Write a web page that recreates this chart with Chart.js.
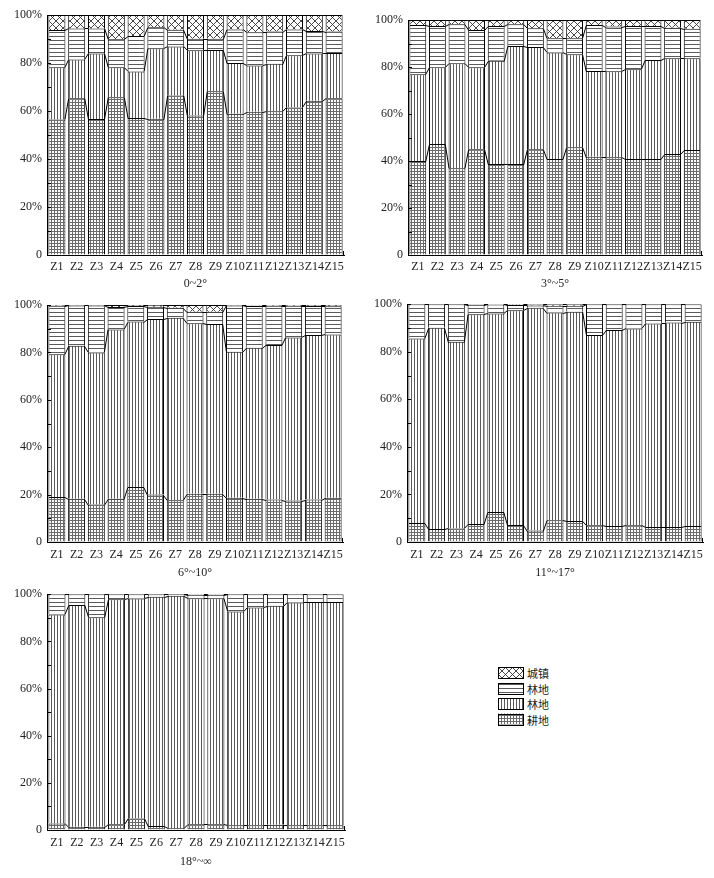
<!DOCTYPE html>
<html><head><meta charset="utf-8">
<script src="https://cdn.jsdelivr.net/npm/chart.js@4"></script>
<style>
body{margin:0;background:#fff;width:714px;height:878px;position:relative;overflow:hidden}
.p{position:absolute}
.lg{position:absolute;font-family:"Noto Sans CJK SC",sans-serif;font-size:11px;color:#222;line-height:14px}
</style></head><body>
<canvas class="p" id="c1" width="357" height="292" style="left:0;top:0"></canvas>
<canvas class="p" id="c2" width="357" height="292" style="left:357px;top:0"></canvas>
<canvas class="p" id="c3" width="357" height="290" style="left:0;top:292px"></canvas>
<canvas class="p" id="c4" width="357" height="290" style="left:357px;top:292px"></canvas>
<canvas class="p" id="c5" width="357" height="296" style="left:0;top:582px"></canvas>
<canvas class="p" id="lgc" width="30" height="70" style="left:495px;top:664px"></canvas>
<div class="lg" id="lgt" style="left:527px;top:666px"></div>
<script>
// ---------- DATA ----------
const zones = ['Z1','Z2','Z3','Z4','Z5','Z6','Z7','Z8','Z9','Z10','Z11','Z12','Z13','Z14','Z15'];
const seriesNames = ['耕地','林地','林地','城镇']; // bottom -> top
const legendNames = ['城镇','林地','林地','耕地'];   // legend order (top -> bottom)
const panelTitles = ['0~2°','3°~5°','6°~10°','11°~17°','18°~∞'];
const yTicks = [0,20,40,60,80,100];

// Panel 0~2°
const crop_0_2   = [56.5,65.3,56.7,65.7,57.1,56.8,66.5,58.1,68.2,58.9,59.7,59.9,61.5,64.3,65.3];
const forestV_0_2= [21.7,16.2,27.3,12.5,19.4,29.3,20.4,27.2,17.2,21.1,19.3,19.8,21.7,19.7,18.9];
const forestH_0_2= [15.6,12.9,10.4,11.7,14.8, 8.8, 7.0, 4.8, 4.7,14.0,13.8,13.4,10.8, 9.3, 8.9];
const town_0_2   = [ 6.2, 5.6, 5.6,10.1, 8.7, 5.1, 6.1, 9.9, 9.9, 6.0, 7.2, 6.9, 6.0, 6.7, 6.9];
// Panel 3°~5°
const crop_3_5   = [40.0,47.2,36.9,45.0,38.7,38.7,45.0,40.9,45.8,41.8,41.6,40.9,40.9,43.0,44.7];
const forestV_3_5= [36.9,32.7,44.7,34.9,44.0,50.2,43.5,45.3,39.6,36.5,36.6,38.1,42.1,40.7,39.0];
const forestH_3_5= [21.0,17.5,16.6,15.8,14.7, 9.3, 8.0, 6.0, 6.8,19.6,19.0,18.4,14.4,13.0,12.6];
const town_3_5   = [ 2.1, 2.6, 1.8, 4.3, 2.6, 1.8, 3.5, 7.8, 7.8, 2.1, 2.8, 2.6, 2.6, 3.3, 3.7];
// Panel 6°~10°
const crop_6_10   = [19.0,18.3,15.8,18.3,23.2,20.0,17.6,20.4,20.4,18.7,18.2,17.9,17.5,17.9,18.7];
const forestV_6_10= [60.2,64.5,64.2,71.4,69.8,74.1,77.0,71.9,71.6,61.6,63.8,65.2,68.8,69.4,68.9];
const forestH_6_10= [20.5,17.0,19.8, 9.5, 6.6, 5.2, 4.2, 4.9, 5.2,19.5,17.6,16.6,13.4,12.3,11.9];
const town_6_10   = [ 0.3, 0.2, 0.2, 0.8, 0.4, 0.7, 1.2, 2.8, 2.8, 0.2, 0.2, 0.3, 0.3, 0.4, 0.5];
// Panel 11°~17°
const crop_11_17   = [ 8.0, 5.5, 5.7, 7.6,12.6, 7.1, 4.8, 9.1, 8.8, 7.0, 6.7, 7.0, 6.3, 6.3, 6.7];
const forestV_11_17= [77.6,84.6,78.5,88.2,83.5,90.4,93.7,87.4,88.0,80.0,82.4,82.8,85.6,86.0,85.9];
const forestH_11_17= [14.4, 9.9,15.8, 4.0, 3.8, 2.2, 1.0, 2.9, 2.6,13.0,10.9,10.2, 8.1, 7.7, 7.4];
const town_11_17   = [ 0.0, 0.0, 0.0, 0.2, 0.1, 0.3, 0.5, 0.6, 0.6, 0.0, 0.0, 0.0, 0.0, 0.0, 0.0];
// Panel 18°~∞
const crop_18   = [ 2.8, 1.4, 1.4, 2.4, 4.9, 1.7, 0.7, 2.4, 2.4, 2.0, 2.0, 2.2, 2.0, 2.0, 2.0];
const forestV_18= [88.6,94.0,88.8,95.5,93.3,97.2,98.6,95.9,95.9,90.7,92.4,92.9,94.5,94.7,94.7];
const forestH_18= [ 8.6, 4.6, 9.8, 2.1, 1.8, 1.1, 0.7, 1.5, 1.5, 7.3, 5.6, 4.9, 3.5, 3.3, 3.3];
const town_18   = [ 0.0, 0.0, 0.0, 0.0, 0.0, 0.0, 0.0, 0.2, 0.2, 0.0, 0.0, 0.0, 0.0, 0.0, 0.0];

// ---------- PATTERNS ----------
function mkPattern(w,h,draw){
  const c=document.createElement('canvas'); c.width=w; c.height=h;
  const g=c.getContext('2d'); g.fillStyle='#fff'; g.fillRect(0,0,w,h);
  draw(g,w,h);
  return document.createElement('canvas').getContext('2d').createPattern(c,'repeat');
}
const patGrid = mkPattern(3,3,(g)=>{g.fillStyle='#6a6a6a';g.fillRect(0,0,3,1);g.fillRect(0,0,1,3);});
const patVert = mkPattern(3,1,(g)=>{g.fillStyle='#5a5a5a';g.fillRect(0,0,1,1);});
const patHorz = mkPattern(1,4,(g)=>{g.fillStyle='#5a5a5a';g.fillRect(0,0,1,1);});
const patCross= mkPattern(7,7,(g)=>{g.strokeStyle='#333';g.lineWidth=0.9;
  g.beginPath();g.moveTo(0,0);g.lineTo(7,7);g.moveTo(7,0);g.lineTo(0,7);
  g.moveTo(-1,6);g.lineTo(1,8);g.moveTo(6,-1);g.lineTo(8,1);g.stroke();});
const patterns=[patGrid,patVert,patHorz,patCross];

// ---------- PLUGIN: connectors + inward ticks ----------
const connector = {
  id:'connector',
  afterDatasetsDraw(chart){
    const ctx=chart.ctx; ctx.save();
    ctx.strokeStyle='#000'; ctx.lineWidth=1;
    const ys=chart.scales.y, area=chart.chartArea;
    const base=chart.getDatasetMeta(0).data;
    const dsets=chart.data.datasets;
    const cum=zones.map(()=>0);
    dsets.forEach((ds,d)=>{
      ds.data.forEach((v,j)=>{cum[j]+= (v||0);});
      for(let j=0;j<base.length-1;j++){
        const a=base[j], b=base[j+1];
        const ya=Math.round(ys.getPixelForValue(cum[j]))+0.5;
        const yb=Math.round(ys.getPixelForValue(cum[j+1]))+0.5;
        ctx.beginPath();
        ctx.moveTo(a.x+a.width/2-0.5, ya);
        ctx.lineTo(b.x-b.width/2+0.5, yb);
        ctx.stroke();
      }
    });
    ctx.beginPath();
    for(let v=0; v<=100; v+=10){
      const y=Math.round(ys.getPixelForValue(v))+0.5;
      ctx.moveTo(area.left,y); ctx.lineTo(area.left+4,y);
    }
    ctx.moveTo(area.right-0.5,area.bottom); ctx.lineTo(area.right-0.5,area.bottom-4);
    ctx.stroke();
    ctx.restore();
  }
};

const serif = {family:'"Liberation Serif","Times New Roman",serif', size:12};

function makeChart(id, series, title, cfg){
  const datasets = series.map((vals,i)=>({
    label: seriesNames[i], data: vals.map(v=> v>0 ? v : null),
    backgroundColor: patterns[i], borderColor:'#000',
    borderWidth:{top:1,left:1,right:1,bottom:0}, borderSkipped:false,
    inflateAmount:0,
    categoryPercentage:1.0, barPercentage:0.86
  }));
  return new Chart(document.getElementById(id), {
    type:'bar',
    data:{labels:zones, datasets},
    options:{
      responsive:false, animation:false, devicePixelRatio:1,
      layout:{padding:{top:cfg.top,right:cfg.right,left:0,bottom:0}},
      plugins:{legend:{display:false},tooltip:{enabled:false}},
      scales:{
        x:{stacked:true,
           grid:{display:true,drawOnChartArea:false,drawTicks:false,color:'#000'},
           border:{display:true,color:'#000',width:1},
           ticks:{color:'#222',font:serif,padding:cfg.xpad,autoSkip:false,maxRotation:0},
           title:{display:true,text:title,color:'#222',font:serif,padding:{top:0,bottom:cfg.tpad}},
           afterFit(s){s.height=cfg.xh;}},
        y:{stacked:true,min:0,max:100,
           grid:{display:true,drawOnChartArea:false,drawTicks:false,color:'#000'},
           border:{display:true,color:'#000',width:1},
           ticks:{color:'#222',font:serif,padding:5,stepSize:20,
                  callback:(v)=> yTicks.includes(v) ? (v===0?'0':v+'%') : ''},
           afterFit(s){s.width=cfg.yw;}}
      }
    },
    plugins:[connector]
  });
}

makeChart('c1',[crop_0_2,forestV_0_2,forestH_0_2,town_0_2],panelTitles[0],
  {top:15,right:13,yw:47,xh:37,xpad:5,tpad:1});
makeChart('c2',[crop_3_5,forestV_3_5,forestH_3_5,town_3_5],panelTitles[1],
  {top:20,right:12,yw:51,xh:37,xpad:5,tpad:1});
makeChart('c3',[crop_6_10,forestV_6_10,forestH_6_10,town_6_10],panelTitles[2],
  {top:13,right:14,yw:47,xh:40,xpad:6,tpad:2});
makeChart('c4',[crop_11_17,forestV_11_17,forestH_11_17,town_11_17],panelTitles[3],
  {top:12,right:11,yw:50,xh:40,xpad:6,tpad:2});
makeChart('c5',[crop_18,forestV_18,forestH_18,town_18],panelTitles[4],
  {top:9,right:12,yw:47,xh:48,xpad:6,tpad:9});

// ---------- LEGEND ----------
(function(){
  const g=document.getElementById('lgc').getContext('2d');
  const order=[3,2,1,0];
  order.forEach((pi,k)=>{
    const y=3+k*15.5;
    g.fillStyle=patterns[pi]; g.fillRect(3,y,25,11);
    g.strokeStyle='#000'; g.lineWidth=1; g.strokeRect(3.5,Math.round(y)+0.5,25,11);
  });
  const t=document.getElementById('lgt');
  t.innerHTML=legendNames.map(n=>'<div style="height:15.5px">'+n+'</div>').join('');
})();
</script>
</body></html>
